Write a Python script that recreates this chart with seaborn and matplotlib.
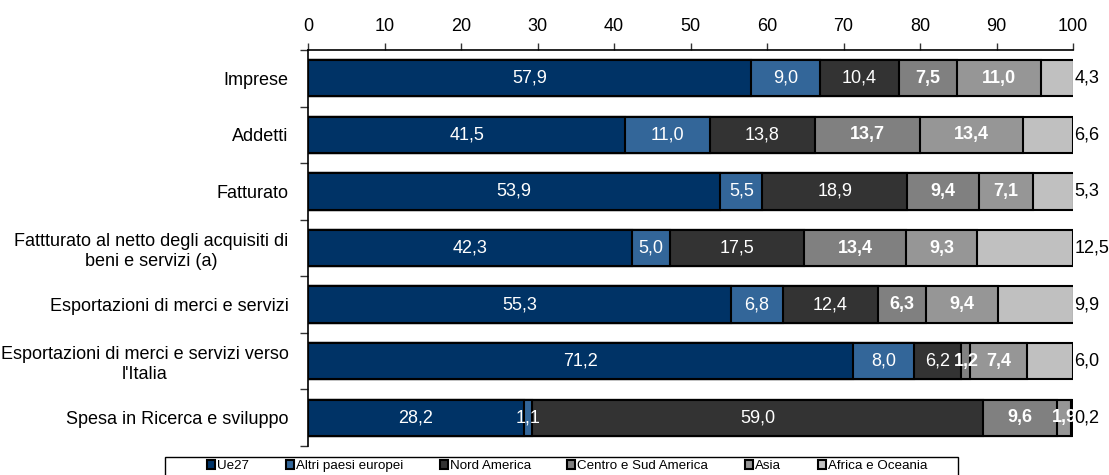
import numpy as np
import pandas as pd
import matplotlib
matplotlib.use("Agg")
import matplotlib.pyplot as plt
import seaborn as sns
from matplotlib.patches import Patch, Rectangle
from matplotlib.ticker import FixedLocator

categories = [
    "Imprese",
    "Addetti",
    "Fatturato",
    "Fattturato al netto degli acquisiti di\nbeni e servizi (a)",
    "Esportazioni di merci e servizi",
    "Esportazioni di merci e servizi verso\nl'Italia",
    "Spesa in Ricerca e sviluppo",
]
series_names = ["Ue27", "Altri paesi europei", "Nord America",
                "Centro e Sud America", "Asia", "Africa e Oceania"]
ue27 = [57.9, 41.5, 53.9, 42.3, 55.3, 71.2, 28.2]
altri_europei = [9.0, 11.0, 5.5, 5.0, 6.8, 8.0, 1.1]
nord_america = [10.4, 13.8, 18.9, 17.5, 12.4, 6.2, 59.0]
centro_sud_america = [7.5, 13.7, 9.4, 13.4, 6.3, 1.2, 9.6]
asia = [11.0, 13.4, 7.1, 9.3, 9.4, 7.4, 1.9]
africa_oceania = [4.3, 6.6, 5.3, 12.5, 9.9, 6.0, 0.2]
x_ticks = [0, 10, 20, 30, 40, 50, 60, 70, 80, 90, 100]

colors = ["#003366", "#336699", "#333333", "#808080", "#969696", "#C0C0C0"]

sns.set_theme(style="white")
plt.rcParams['font.family'] = ['Liberation Sans Narrow', 'Liberation Sans', 'DejaVu Sans']
plt.rcParams['text.color'] = 'black'
plt.rcParams['xtick.color'] = 'black'
plt.rcParams['ytick.color'] = 'black'
plt.rcParams['xtick.labelcolor'] = 'black'
plt.rcParams['ytick.labelcolor'] = 'black'
FS = 13

values = np.array([ue27, altri_europei, nord_america, centro_sud_america, asia, africa_oceania])
cum = np.cumsum(values, axis=0)

fig = plt.figure(figsize=(11.09, 4.75), dpi=100)
ax = fig.add_axes([308/1109, 1 - 446/475, (1073-308)/1109, (446-50)/475])

# draw cumulative bars from widest to narrowest so each series overlays the next
for i in range(len(series_names) - 1, -1, -1):
    df = pd.DataFrame({"cat": categories, "val": cum[i]})
    sns.barplot(data=df, y="cat", x="val", orient="h", color=colors[i],
                saturation=1, width=0.64, edgecolor="black", linewidth=1.5,
                ax=ax, order=categories)

# labels
for j, cat in enumerate(categories):
    start = 0.0
    for i in range(len(series_names)):
        v = values[i][j]
        txt = f"{v:.1f}".replace(".", ",")
        if i == len(series_names) - 1:
            ax.annotate(txt, xy=(100, j), xytext=(1, 0), textcoords="offset points",
                        ha="left", va="center", fontsize=FS, color="black")
        else:
            bold = i in (3, 4)
            ax.text(start + v / 2, j, txt, ha="center", va="center", fontsize=FS,
                    color="white", fontweight="bold" if bold else "normal")
        start += v

ax.set_xlim(0, 100)
ax.set_ylim(len(categories) - 0.5, -0.5)
ax.set_xlabel("")
ax.set_ylabel("")
ax.xaxis.tick_top()
ax.set_xticks(x_ticks)
ax.set_xticklabels([str(t) for t in x_ticks], fontsize=FS)
ax.tick_params(axis="x", which="major", direction="out", length=5, width=1,
               color="#333333", pad=6, top=True, bottom=False)
ax.set_yticks(range(len(categories)))
ax.set_yticklabels(categories, fontsize=FS, ha="right", multialignment="center")
ax.tick_params(axis="y", which="major", length=0, pad=14)
ax.yaxis.set_minor_locator(FixedLocator(np.arange(-0.5, len(categories), 1.0)))
ax.tick_params(axis="y", which="minor", direction="out", length=6, width=1,
               color="#333333", left=True)
for s in ["right", "bottom"]:
    ax.spines[s].set_visible(False)
for s in ["top", "left"]:
    ax.spines[s].set_visible(True)
    ax.spines[s].set_color("black")
    ax.spines[s].set_linewidth(1.2)
ax.grid(False)

handles = [Patch(facecolor=c, edgecolor="black", linewidth=1.5) for c in colors]
leg = fig.legend(handles, series_names, loc="center", ncol=6,
                 bbox_to_anchor=(567/1109, 1 - 466/475), frameon=False,
                 fontsize=9.6, handlelength=0.6, handleheight=0.6,
                 handletextpad=0.15, columnspacing=2.75, borderpad=0,
                 borderaxespad=0)
# legend frame (extends past the bottom edge as in the reference)
fig.add_artist(Rectangle((165/1109, -0.05), (958-165)/1109, 0.05 + (475-457)/475,
                         transform=fig.transFigure, fill=False,
                         edgecolor="black", linewidth=1.0))

fig.savefig("out.png", dpi=100)
